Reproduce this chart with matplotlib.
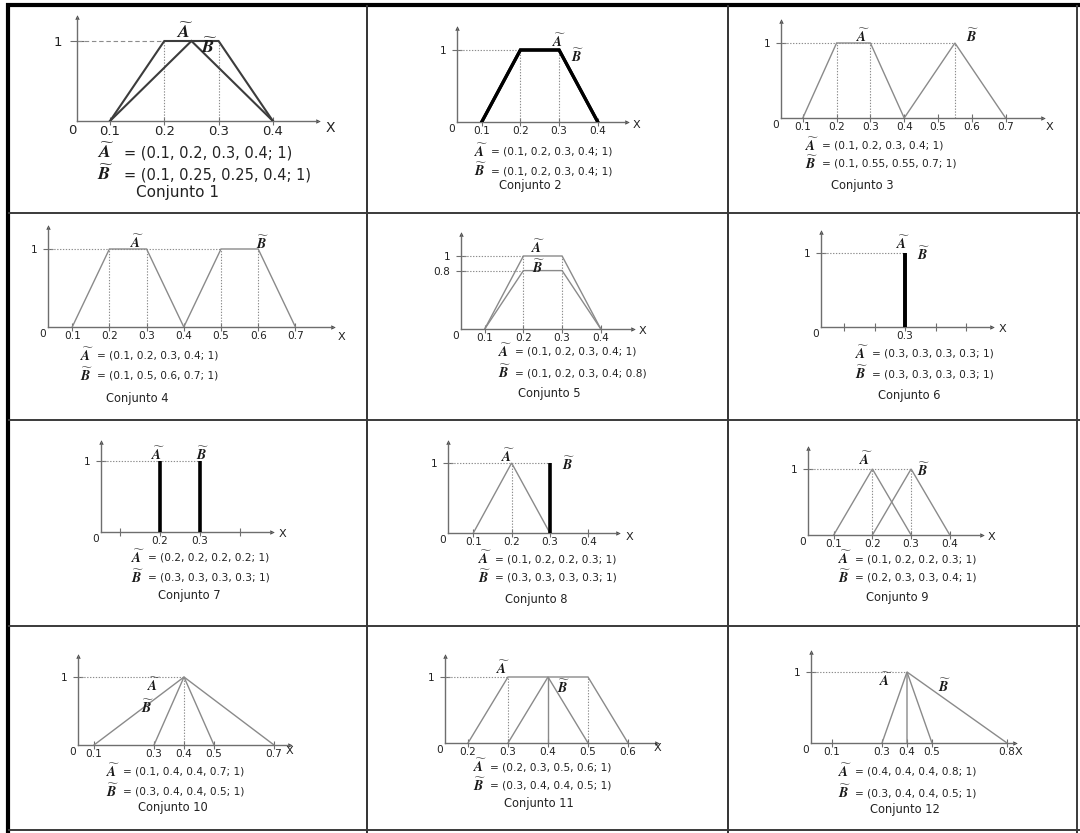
import matplotlib
matplotlib.use("Agg")
import matplotlib.pyplot as plt
from matplotlib.lines import Line2D

plt.rcParams["font.family"] = ["DejaVu Sans"]
plt.rcParams["mathtext.fontset"] = "stix"

W, H = 1080, 833

# Trapezoidal fuzzy numbers (a, b, c, d; h) drawn in each set
A_sets = [
    [0.1, 0.2, 0.3, 0.4, 1.0],
    [0.1, 0.2, 0.3, 0.4, 1.0],
    [0.1, 0.2, 0.3, 0.4, 1.0],
    [0.1, 0.2, 0.3, 0.4, 1.0],
    [0.1, 0.2, 0.3, 0.4, 1.0],
    [0.3, 0.3, 0.3, 0.3, 1.0],
    [0.2, 0.2, 0.2, 0.2, 1.0],
    [0.1, 0.2, 0.2, 0.3, 1.0],
    [0.1, 0.2, 0.2, 0.3, 1.0],
    [0.1, 0.4, 0.4, 0.7, 1.0],
    [0.2, 0.3, 0.5, 0.6, 1.0],
    [0.4, 0.4, 0.4, 0.8, 1.0],
]
B_sets = [
    [0.1, 0.25, 0.25, 0.4, 1.0],
    [0.1, 0.2, 0.3, 0.4, 1.0],
    [0.4, 0.55, 0.55, 0.7, 1.0],
    [0.4, 0.5, 0.6, 0.7, 1.0],
    [0.1, 0.2, 0.3, 0.4, 0.8],
    [0.3, 0.3, 0.3, 0.3, 1.0],
    [0.3, 0.3, 0.3, 0.3, 1.0],
    [0.3, 0.3, 0.3, 0.3, 1.0],
    [0.2, 0.3, 0.3, 0.4, 1.0],
    [0.3, 0.4, 0.4, 0.5, 1.0],
    [0.3, 0.4, 0.4, 0.5, 1.0],
    [0.3, 0.4, 0.4, 0.5, 1.0],
]

# Tuples as printed under each chart
A_text = [
    "(0.1, 0.2, 0.3, 0.4; 1)",
    "(0.1, 0.2, 0.3, 0.4; 1)",
    "(0.1, 0.2, 0.3, 0.4; 1)",
    "(0.1, 0.2, 0.3, 0.4; 1)",
    "(0.1, 0.2, 0.3, 0.4; 1)",
    "(0.3, 0.3, 0.3, 0.3; 1)",
    "(0.2, 0.2, 0.2, 0.2; 1)",
    "(0.1, 0.2, 0.2, 0.3; 1)",
    "(0.1, 0.2, 0.2, 0.3; 1)",
    "(0.1, 0.4, 0.4, 0.7; 1)",
    "(0.2, 0.3, 0.5, 0.6; 1)",
    "(0.4, 0.4, 0.4, 0.8; 1)",
]
B_text = [
    "(0.1, 0.25, 0.25, 0.4; 1)",
    "(0.1, 0.2, 0.3, 0.4; 1)",
    "(0.1, 0.55, 0.55, 0.7; 1)",
    "(0.1, 0.5, 0.6, 0.7; 1)",
    "(0.1, 0.2, 0.3, 0.4; 0.8)",
    "(0.3, 0.3, 0.3, 0.3; 1)",
    "(0.3, 0.3, 0.3, 0.3; 1)",
    "(0.3, 0.3, 0.3, 0.3; 1)",
    "(0.2, 0.3, 0.3, 0.4; 1)",
    "(0.3, 0.4, 0.4, 0.5; 1)",
    "(0.3, 0.4, 0.4, 0.5; 1)",
    "(0.3, 0.4, 0.4, 0.5; 1)",
]
set_titles = ["Conjunto %d" % i for i in range(1, 13)]

x_ticks = [
    [0.1, 0.2, 0.3, 0.4],
    [0.1, 0.2, 0.3, 0.4],
    [0.1, 0.2, 0.3, 0.4, 0.5, 0.6, 0.7],
    [0.1, 0.2, 0.3, 0.4, 0.5, 0.6, 0.7],
    [0.1, 0.2, 0.3, 0.4],
    [0.1, 0.2, 0.3, 0.4, 0.5],
    [0.1, 0.2, 0.3, 0.4],
    [0.1, 0.2, 0.3, 0.4],
    [0.1, 0.2, 0.3, 0.4],
    [0.1, 0.3, 0.4, 0.5, 0.7],
    [0.2, 0.3, 0.4, 0.5, 0.6],
    [0.1, 0.3, 0.4, 0.5, 0.8],
]
x_ticklabels = [
    ["0.1", "0.2", "0.3", "0.4"],
    ["0.1", "0.2", "0.3", "0.4"],
    ["0.1", "0.2", "0.3", "0.4", "0.5", "0.6", "0.7"],
    ["0.1", "0.2", "0.3", "0.4", "0.5", "0.6", "0.7"],
    ["0.1", "0.2", "0.3", "0.4"],
    ["", "", "0.3", "", ""],
    ["", "0.2", "0.3", ""],
    ["0.1", "0.2", "0.3", "0.4"],
    ["0.1", "0.2", "0.3", "0.4"],
    ["0.1", "0.3", "0.4", "0.5", "0.7"],
    ["0.2", "0.3", "0.4", "0.5", "0.6"],
    ["0.1", "0.3", "0.4", "0.5", "0.8"],
]
y_ticks = [[1], [1], [1], [1], [0.8, 1], [1], [1], [1], [1], [1], [1], [1]]
y_ticklabels = [["1"], ["1"], ["1"], ["1"], ["0.8", "1"], ["1"], ["1"],
                ["1"], ["1"], ["1"], ["1"], ["1"]]

# Dotted reference lines: horizontal (level, up to x) and vertical (x, up to level)
h_guides = [
    [(1, 0.2)], [(1, 0.2)], [(1, 0.55)], [(1, 0.5)], [(1, 0.2), (0.8, 0.2)],
    [(1, 0.3)], [(1, 0.3)], [(1, 0.3)], [(1, 0.3)], [(1, 0.4)], [(1, 0.3)],
    [(1, 0.4)],
]
v_guides = [
    [0.2, 0.3], [0.2, 0.3], [0.2, 0.3, 0.55], [0.2, 0.3, 0.5, 0.6], [0.2, 0.3],
    [], [], [0.2], [0.2, 0.3], [0.4], [0.3, 0.5], [],
]
v_solid = [[], [], [], [], [], [], [], [], [], [], [0.4], []]

# Panel geometry in pixels: y-axis x, x-axis y, arrow tips, level-1 height,
# pixel of x=0 and pixels per 0.1
layout = [
    dict(ox=77, oy=121, xe=318, yt=17, y1=41, x0=55.7, s=54.3),
    dict(ox=457, oy=122, xe=627, yt=28, y1=50, x0=443, s=38.7),
    dict(ox=781, oy=118, xe=1043, yt=21, y1=43, x0=769, s=33.8),
    dict(ox=48, oy=327, xe=333, yt=227, y1=249, x0=35, s=37.2),
    dict(ox=461, oy=329, xe=633, yt=234, y1=256, x0=446, s=38.7),
    dict(ox=821, oy=327, xe=992, yt=232, y1=253, x0=813.5, s=30.5),
    dict(ox=101, oy=532, xe=272, yt=442, y1=461, x0=80, s=40),
    dict(ox=448, oy=533, xe=618, yt=442, y1=463, x0=435, s=38.3),
    dict(ox=808, oy=535, xe=982, yt=448, y1=469, x0=795, s=38.7),
    dict(ox=78, oy=745, xe=290, yt=656, y1=677, x0=64, s=30),
    dict(ox=445, oy=743, xe=657, yt=656, y1=677, x0=388, s=40),
    dict(ox=811, oy=743, xe=1015, yt=652, y1=672, x0=807, s=25),
]
# Text anchors in pixels: formula x, formula rows y, title centre, X label, name labels
text_pos = [
    dict(fx=97, fa=153, fb=175, cx=178, cy=193, X=(330, 128), na=(185, 32), nb=(209, 47)),
    dict(fx=474, fa=152, fb=171, cx=530, cy=185, X=(637, 125), na=(559, 41), nb=(577, 56)),
    dict(fx=805, fa=146, fb=164, cx=862, cy=185, X=(1050, 127), na=(863, 36), nb=(972, 36)),
    dict(fx=80, fa=356, fb=376, cx=137, cy=398, X=(342, 337), na=(137, 242), nb=(262, 243)),
    dict(fx=498, fa=352, fb=373, cx=549, cy=393, X=(643, 331), na=(538, 247), nb=(538, 267)),
    dict(fx=855, fa=354, fb=374, cx=909, cy=396, X=(1003, 329), na=(903, 243), nb=(923, 254)),
    dict(fx=131, fa=558, fb=578, cx=189, cy=596, X=(283, 534), na=(158, 454), nb=(202, 454)),
    dict(fx=478, fa=559, fb=578, cx=536, cy=599, X=(630, 537), na=(508, 456), nb=(568, 464)),
    dict(fx=838, fa=559, fb=578, cx=897, cy=597, X=(992, 537), na=(866, 459), nb=(923, 470)),
    dict(fx=106, fa=772, fb=792, cx=173, cy=807, X=(290, 751), na=(154, 685), nb=(147, 707)),
    dict(fx=473, fa=767, fb=786, cx=539, cy=803, X=(658, 748), na=(503, 668), nb=(563, 687)),
    dict(fx=838, fa=772, fb=793, cx=905, cy=810, X=(1019, 752), na=(886, 680), nb=(944, 686)),
]

AXIS_C = "#6e6e6e"
GUIDE_C = "#8c8c8c"
CURVE_C = "#8a8a8a"
TEXT_C = "#222222"
A_NAME = r"$\widetilde{\boldsymbol{A}}$"
B_NAME = r"$\widetilde{\boldsymbol{B}}$"

fig = plt.figure(figsize=(W / 100, H / 100), dpi=100)
fig.patch.set_facecolor("white")


def ftext(x, y, s, **kw):
    kw.setdefault("va", "center")
    kw.setdefault("color", TEXT_C)
    fig.text(x / W, 1 - y / H, s, **kw)


def draw_number(ax, p, color, lw):
    a, b, c, d, h = p
    if a == d:
        ax.vlines(a, 0, h, color="black", lw=2.6, zorder=4)
    else:
        ax.plot([a, b, c, d], [0, h, h, 0], color=color, lw=lw,
                solid_joinstyle="miter", zorder=3)


for i in range(12):
    L = layout[i]
    T = text_pos[i]
    big = i == 0
    fs = 10.5 if big else 7.6
    tick_fs = 9.5 if big else 7.6
    name_fs = 13 if big else 10
    if i == 0:
        ccol, clw = "#3c3c3c", 1.5
    elif i == 1:
        ccol, clw = "black", 2.3
    else:
        ccol, clw = CURVE_C, 1.0

    ax = fig.add_axes([L["ox"] / W, 1 - L["oy"] / H,
                       (L["xe"] - L["ox"]) / W, (L["oy"] - L["yt"]) / H])
    ax.patch.set_alpha(0)
    xlo = (L["ox"] - L["x0"]) / L["s"] * 0.1
    xhi = (L["xe"] - L["x0"]) / L["s"] * 0.1
    ax.set_xlim(xlo, xhi)
    ax.set_ylim(0, (L["oy"] - L["yt"]) / (L["oy"] - L["y1"]))

    for side in ("top", "right"):
        ax.spines[side].set_visible(False)
    for side in ("left", "bottom"):
        ax.spines[side].set_color(AXIS_C)
        ax.spines[side].set_linewidth(1.0)
    ax.plot(1, 0, ">", transform=ax.transAxes, clip_on=False, ms=3.2,
            color="#444444", mec="none")
    ax.plot(0, 1, "^", transform=ax.transAxes, clip_on=False, ms=3.2,
            color="#444444", mec="none")

    ax.set_xticks(x_ticks[i])
    ax.set_xticklabels(x_ticklabels[i])
    ax.set_yticks(y_ticks[i])
    ax.set_yticklabels(y_ticklabels[i])
    ax.tick_params(axis="x", direction="inout", length=6, width=0.8,
                   color=AXIS_C, pad=0, labelsize=tick_fs, labelcolor=TEXT_C)
    ax.tick_params(axis="y", direction="inout", length=7 if not big else 10,
                   width=0.8, color=AXIS_C, pad=4 if not big else 6,
                   labelsize=tick_fs, labelcolor=TEXT_C)

    dot = (0, (1.2, 1.4))
    for (lev, xend) in h_guides[i]:
        ax.hlines(lev, xlo, xend, colors=GUIDE_C, lw=0.8,
                  linestyles=(0, (4, 2.5)) if big else dot, zorder=2)
    for xv in v_guides[i]:
        ax.vlines(xv, 0, 1, colors=GUIDE_C, lw=0.8, linestyles=dot, zorder=2)
    for xv in v_solid[i]:
        ax.vlines(xv, 0, 1, colors=CURVE_C, lw=1.0, zorder=2)

    draw_number(ax, A_sets[i], ccol, clw)
    draw_number(ax, B_sets[i], ccol, clw)

    # origin and axis name
    ftext(L["ox"] - 5, L["oy"] + (10 if big else 7), "0", ha="center",
          fontsize=tick_fs)
    ftext(T["X"][0], T["X"][1], "X", ha="center", fontsize=tick_fs + 0.5)

    # names next to the curves
    ftext(T["na"][0], T["na"][1], A_NAME, ha="center", fontsize=name_fs,
          color="#1a1a1a")
    ftext(T["nb"][0], T["nb"][1], B_NAME, ha="center", fontsize=name_fs,
          color="#1a1a1a")

    # definitions and title under the chart
    off = 27 if big else 17
    for yrow, nm, tup in ((T["fa"], A_NAME, A_text[i]),
                          (T["fb"], B_NAME, B_text[i])):
        ftext(T["fx"], yrow - 1, nm, ha="left", fontsize=name_fs,
              color="#1a1a1a")
        ftext(T["fx"] + off, yrow, "= " + tup, ha="left", fontsize=fs)
    ftext(T["cx"], T["cy"], set_titles[i], ha="center",
          fontsize=11 if big else 8.3)


def rule(x1, y1, x2, y2, lw, color):
    fig.add_artist(Line2D([x1 / W, x2 / W], [1 - y1 / H, 1 - y2 / H],
                          transform=fig.transFigure, lw=lw, color=color,
                          solid_capstyle="butt"))


# table frame
rule(6, 5, 1080, 5, 3.0, "black")
rule(8, 3, 8, 833, 3.0, "black")
for xc in (367, 728):
    rule(xc, 5, xc, 833, 1.4, "#333333")
for yr in (213, 420, 626):
    rule(8, yr, 1080, yr, 1.4, "#3a3a3a")
rule(8, 830, 1080, 830, 1.4, "#3a3a3a")
rule(1077, 5, 1077, 833, 1.4, "#3a3a3a")

fig.savefig("out.png", dpi=100)
